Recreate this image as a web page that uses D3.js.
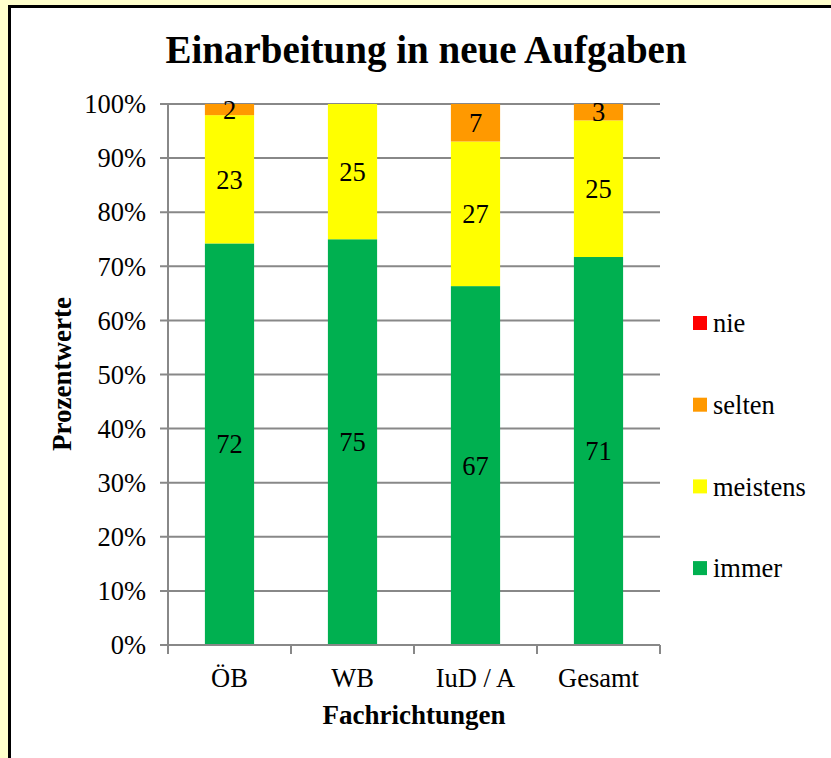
<!DOCTYPE html>
<html>
<head>
<meta charset="utf-8">
<script src="https://cdn.jsdelivr.net/npm/d3@7"></script>
<style>
  html, body { margin: 0; padding: 0; background: #FFFFCC; overflow: hidden; }
  svg { display: block; }
</style>
</head>
<body>
<div id="chart"></div>
<script>
// Categories and answer series (counts, shown as percent of total per bar)
const categories = ["ÖB", "WB", "IuD / A", "Gesamt"];
const seriesNames = ["immer", "meistens", "selten", "nie"];
const immer = [72, 75, 67, 71];
const meistens = [23, 25, 27, 25];
const selten = [2, 0, 7, 3];
const nie = [0, 0, 0, 0];
const yTicks = [0, 10, 20, 30, 40, 50, 60, 70, 80, 90, 100];

const colors = {immer: "#00B050", meistens: "#FFFF00", selten: "#FF9900", nie: "#FF0000"};

const width = 831;
const height = 758;
const serif = "'Liberation Serif', 'Times New Roman', serif";
const fs = "26.5px";

// build rows for the stack
const rows = categories.map((c, i) => ({
    cat: c, immer: immer[i], meistens: meistens[i], selten: selten[i], nie: nie[i]
}));

const stack = d3.stack()
    .keys(seriesNames)
    .offset(d3.stackOffsetExpand);
const layers = stack(rows);

const svg = d3.select("#chart")
    .append("svg")
    .attr("width", width)
    .attr("height", height);

// white frame with black border (open on right and bottom)
svg.append("rect")
    .attr("x", 9.5).attr("y", 6.5)
    .attr("width", width + 100).attr("height", height + 100)
    .attr("fill", "#fff")
    .attr("stroke", "#000")
    .attr("stroke-width", 3);

const plot = {left: 168, right: 660, top: 104, bottom: 645};

const x = d3.scaleBand()
    .domain(categories)
    .range([plot.left, plot.right])
    .paddingInner(0.6)
    .paddingOuter(0.3);

const y = d3.scaleLinear()
    .domain([0, 1])
    .range([plot.bottom, plot.top]);

// gridlines
svg.append("g")
    .selectAll("line")
    .data(yTicks)
    .enter()
    .append("line")
    .attr("x1", plot.left - 8)
    .attr("x2", plot.right)
    .attr("y1", d => y(d / 100))
    .attr("y2", d => y(d / 100))
    .attr("stroke", "#888")
    .attr("stroke-width", 2);

// bars
const layerG = svg.append("g")
    .selectAll("g")
    .data(layers)
    .enter()
    .append("g")
    .attr("fill", d => colors[d.key]);

layerG.selectAll("rect")
    .data(d => d)
    .enter()
    .append("rect")
    .attr("x", d => x(d.data.cat))
    .attr("width", x.bandwidth())
    .attr("y", d => y(d[1]))
    .attr("height", d => y(d[0]) - y(d[1]));

// data labels
layers.forEach(layer => {
    layer.forEach(d => {
        const v = d.data[layer.key];
        if (!v) return;
        svg.append("text")
            .attr("x", x(d.data.cat) + x.bandwidth() / 2)
            .attr("y", y((d[0] + d[1]) / 2))
            .attr("dy", "0.35em")
            .attr("text-anchor", "middle")
            .style("font-family", serif)
            .style("font-size", fs)
            .text(v);
    });
});

// y axis line
svg.append("line")
    .attr("x1", plot.left).attr("x2", plot.left)
    .attr("y1", plot.top).attr("y2", plot.bottom)
    .attr("stroke", "#888").attr("stroke-width", 2);

// x axis line + ticks
svg.append("line")
    .attr("x1", plot.left).attr("x2", plot.right)
    .attr("y1", plot.bottom).attr("y2", plot.bottom)
    .attr("stroke", "#888").attr("stroke-width", 2);

const xTickPos = categories.map(c => x(c) - x.step() * x.paddingInner() / 2)
    .concat([plot.right]);
svg.append("g")
    .selectAll("line")
    .data(xTickPos)
    .enter()
    .append("line")
    .attr("x1", d => d).attr("x2", d => d)
    .attr("y1", plot.bottom).attr("y2", plot.bottom + 9)
    .attr("stroke", "#888").attr("stroke-width", 2);

// y tick labels
svg.append("g")
    .selectAll("text")
    .data(yTicks)
    .enter()
    .append("text")
    .attr("x", plot.left - 22)
    .attr("y", d => y(d / 100))
    .attr("dy", "0.35em")
    .attr("text-anchor", "end")
    .style("font-family", serif)
    .style("font-size", fs)
    .text(d => d + "%");

// x tick labels
svg.append("g")
    .selectAll("text")
    .data(categories)
    .enter()
    .append("text")
    .attr("x", d => x(d) + x.bandwidth() / 2)
    .attr("y", 687)
    .attr("text-anchor", "middle")
    .style("font-family", serif)
    .style("font-size", fs)
    .text(d => d);

// title
svg.append("text")
    .attr("x", 426)
    .attr("y", 63)
    .attr("text-anchor", "middle")
    .style("font-family", serif)
    .style("font-size", "39px")
    .style("font-weight", "bold")
    .text("Einarbeitung in neue Aufgaben");

// axis titles
svg.append("text")
    .attr("x", 414)
    .attr("y", 724)
    .attr("text-anchor", "middle")
    .style("font-family", serif)
    .style("font-size", "27px")
    .style("font-weight", "bold")
    .text("Fachrichtungen");

svg.append("text")
    .attr("transform", "translate(71, 374) rotate(-90)")
    .attr("text-anchor", "middle")
    .style("font-family", serif)
    .style("font-size", "27px")
    .style("font-weight", "bold")
    .text("Prozentwerte");

// legend (top to bottom: nie, selten, meistens, immer)
const legendOrder = seriesNames.slice().reverse();
const legend = svg.append("g");
legendOrder.forEach((name, i) => {
    const ly = 323 + i * 81.7;
    legend.append("rect")
        .attr("x", 693)
        .attr("y", ly - 7)
        .attr("width", 14)
        .attr("height", 14)
        .attr("fill", colors[name]);
    legend.append("text")
        .attr("x", 713)
        .attr("y", ly)
        .attr("dy", "0.35em")
        .style("font-family", serif)
        .style("font-size", fs)
        .text(name);
});
</script>
</body>
</html>
